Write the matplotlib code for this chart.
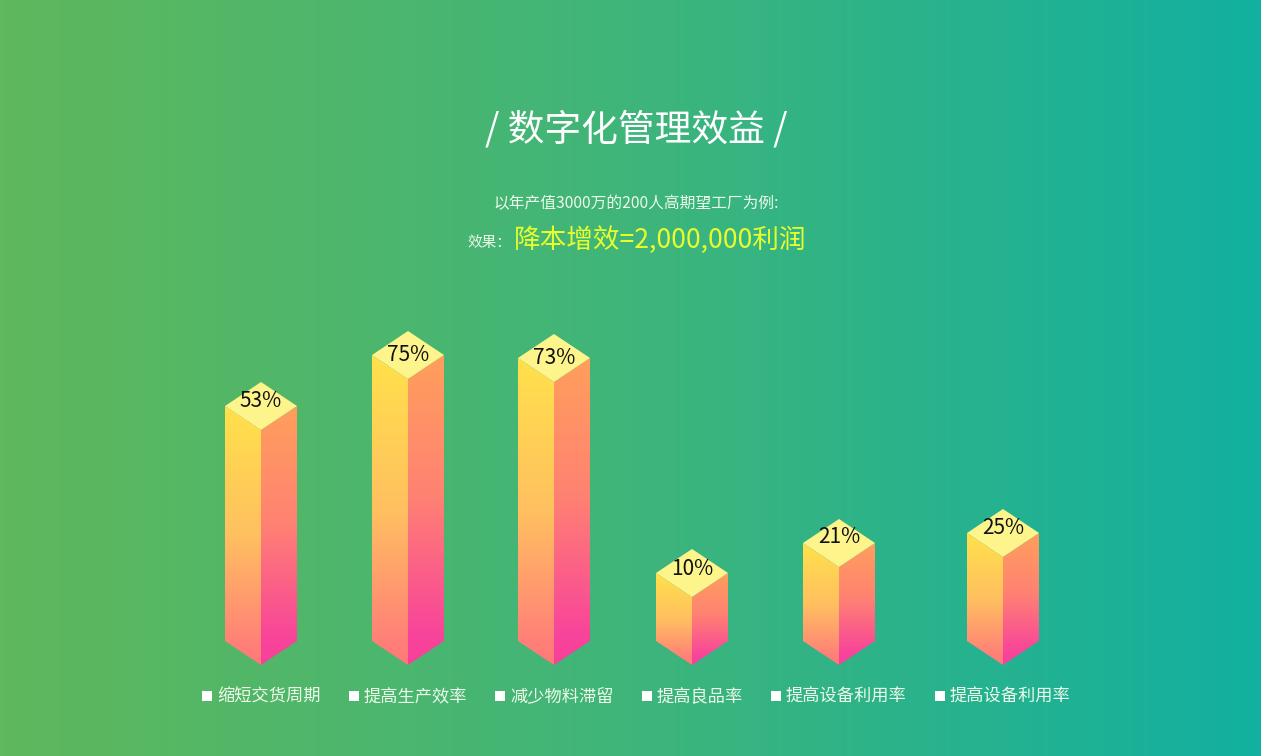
import numpy as np
import matplotlib
matplotlib.use('Agg')
import matplotlib.pyplot as plt
from matplotlib.colors import LinearSegmentedColormap
from matplotlib.patches import Polygon

plt.rcParams['font.family'] = ['Noto Sans CJK SC', 'DejaVu Sans']

# values
categories = ['缩短交货周期', '提高生产效率', '减少物料滞留', '提高良品率', '提高设备利用率', '提高设备利用率']
percent_labels = ['53%', '75%', '73%', '10%', '21%', '25%']
bar_heights = [235, 286, 283, 68, 98, 108]
bar_centers = [261, 408, 554, 692, 839, 1003]
label_lefts = [207, 354, 500, 647, 776, 940]
label_shift = [5, 0, 0, 4, 6, 5]

W, H = 1261, 756
BASE_Y = 665
HALF_W = 36
RISE = 24

fig = plt.figure(figsize=(W / 100, H / 100), dpi=100)
ax = fig.add_axes([0, 0, 1, 1])
ax.set_xlim(0, W)
ax.set_ylim(-(H - BASE_Y), BASE_Y)
ax.axis('off')


def y_of(pix):
    return BASE_Y - pix


# background
bg = LinearSegmentedColormap.from_list('bg', ['#5fb85c', '#3fb57a', '#12b0a0'])
ax.imshow(np.linspace(0, 1, 256).reshape(1, -1), cmap=bg, aspect='auto',
          extent=[0, W, -(H - BASE_Y), BASE_Y], zorder=0)

left_cm = LinearSegmentedColormap.from_list(
    'l', [(0, '#ffe14a'), (0.5, '#ffc060'), (0.92, '#ff8078'), (1, '#ff7878')])
right_cm = LinearSegmentedColormap.from_list(
    'r', [(0, '#ff9f5c'), (0.45, '#ff8272'), (0.9, '#f8449a'), (1, '#f8409c')])


def gradient_face(pts, cmap):
    xs = [p[0] for p in pts]
    ys = [p[1] for p in pts]
    im = ax.imshow(np.linspace(0, 1, 256).reshape(-1, 1), cmap=cmap, aspect='auto',
                   extent=[min(xs), max(xs), min(ys), max(ys)], zorder=2)
    patch = Polygon(pts, closed=True, facecolor='none', edgecolor='none', transform=ax.transData)
    ax.add_patch(patch)
    im.set_clip_path(patch)


for cx, h, pct, shift in zip(bar_centers, bar_heights, percent_labels, label_shift):
    # h is the front edge, from bottom tip to front corner of the top
    left = [(cx - HALF_W, RISE), (cx, 0), (cx, h), (cx - HALF_W, h + RISE)]
    right = [(cx, 0), (cx + HALF_W, RISE), (cx + HALF_W, h + RISE), (cx, h)]
    gradient_face(left, left_cm)
    gradient_face(right, right_cm)
    top = [(cx, h), (cx + HALF_W, h + RISE), (cx, h + 2 * RISE), (cx - HALF_W, h + RISE)]
    ax.add_patch(Polygon(top, closed=True, facecolor='#fdf58c', edgecolor='none', zorder=3))
    ax.text(cx, h + RISE + shift, pct, ha='center', va='center', fontsize=15, color='#111111', zorder=4)

# category labels
ax.scatter(label_lefts, [y_of(696)] * len(label_lefts), marker='s', s=42, color='white',
           linewidths=0, zorder=4)
for x, name in zip(label_lefts, categories):
    ax.text(x + 10, y_of(697), name, ha='left', va='center', fontsize=12.4, color='#eefbea', zorder=4)

# headings
ax.text(636, y_of(130), '/ 数字化管理效益 /', ha='center', va='center', fontsize=26.5, color='white')
ax.text(636, y_of(204), '以年产值3000万的200人高期望工厂为例:', ha='center', va='center',
        fontsize=11.3, color='#eefbea')
ax.text(467, y_of(243), '效果：', ha='left', va='center', fontsize=10.5, color='#eefbea')
ax.text(514, y_of(240), '降本增效=2,000,000利润', ha='left', va='center', fontsize=19.2, color='#e8ff2e')

fig.savefig('out.png', dpi=100)
